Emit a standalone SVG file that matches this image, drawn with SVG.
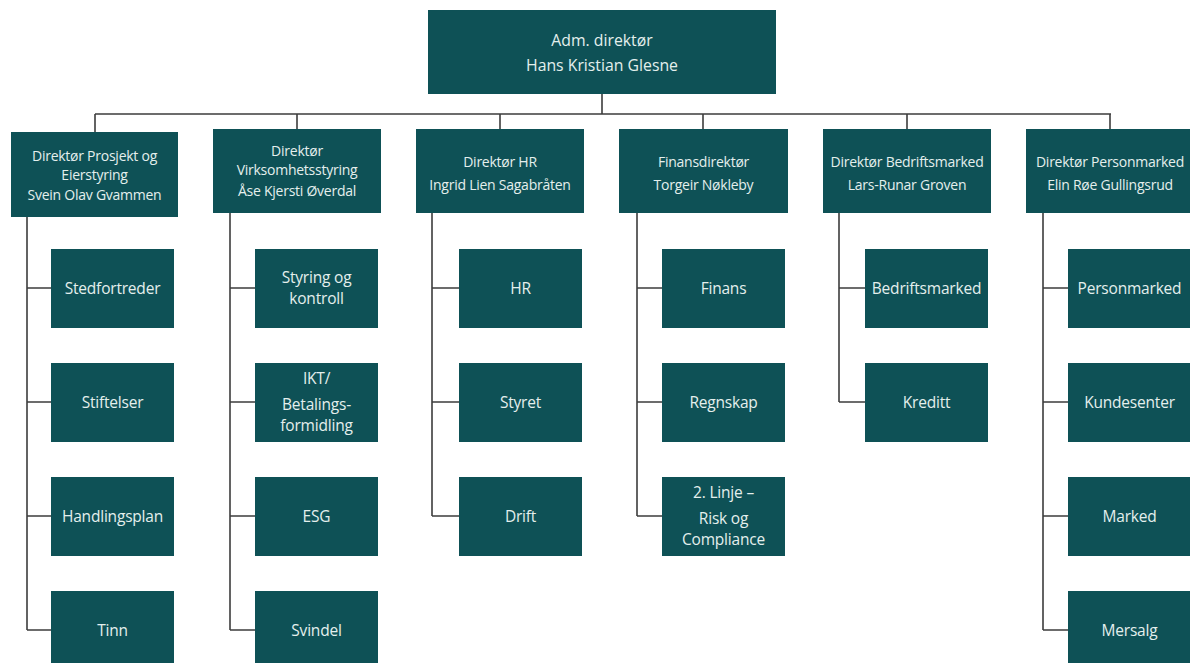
<svg xmlns="http://www.w3.org/2000/svg" width="1190" height="663" viewBox="0 0 1190 663">
<style>
.box{fill:#0e5156;}
.t{font-family:"Open Sans","Noto Sans",sans-serif;fill:#e4efed;text-anchor:middle;}
.top{font-size:15.8px;}
.dir{font-size:14px;letter-spacing:-0.25px;}
.ch{font-size:15.5px;letter-spacing:-0.2px;}
.ln{stroke:#3d3d3d;stroke-width:1.6;fill:none;}
</style>
<rect width="1190" height="663" fill="#ffffff"/>
<g id="connectors">
<path class="ln" d="M602 94V114M95 114H1111M95 114V132M297 114V129M500 114V129M703 114V129M907 114V129M1110 114V129"/>
<path class="ln" d="M27 217V630M27 288H51M27 402H51M27 516H51M27 630H51"/>
<path class="ln" d="M230 213V630M230 288H255M230 402H255M230 516H255M230 630H255"/>
<path class="ln" d="M432 213V516M432 288H459M432 402H459M432 516H459"/>
<path class="ln" d="M637 213V516M637 288H662M637 402H662M637 516H662"/>
<path class="ln" d="M839 213V402M839 288H865M839 402H865"/>
<path class="ln" d="M1043 213V630M1043 288H1068M1043 402H1068M1043 516H1068M1043 630H1068"/>
</g>
<g id="ceo"><rect class="box" x="428" y="10" width="348" height="84"/>
<text class="t top" x="602" y="46">Adm. direktør</text><text class="t top" x="602" y="71">Hans Kristian Glesne</text></g>

<g id="dir1"><rect class="box" x="11" y="132" width="167" height="85"/>
<text class="t dir" x="94.5" y="161">Direktør Prosjekt og</text><text class="t dir" x="94.5" y="180">Eierstyring</text><text class="t dir" x="94.5" y="200">Svein Olav Gvammen</text></g>
<g id="dir2"><rect class="box" x="213" y="129" width="168" height="84"/>
<text class="t dir" x="297" y="156">Direktør</text><text class="t dir" x="297" y="175">Virksomhetsstyring</text><text class="t dir" x="297" y="196">Åse Kjersti Øverdal</text></g>
<g id="dir3"><rect class="box" x="416" y="129" width="168" height="84"/>
<text class="t dir" x="500" y="167">Direktør HR</text><text class="t dir" x="500" y="190">Ingrid Lien Sagabråten</text></g>
<g id="dir4"><rect class="box" x="619" y="129" width="169" height="84"/>
<text class="t dir" x="703.5" y="167">Finansdirektør</text><text class="t dir" x="703.5" y="190">Torgeir Nøkleby</text></g>
<g id="dir5"><rect class="box" x="823" y="129" width="168" height="84"/>
<text class="t dir" x="907" y="167">Direktør Bedriftsmarked</text><text class="t dir" x="907" y="190">Lars-Runar Groven</text></g>
<g id="dir6"><rect class="box" x="1026" y="129" width="168" height="84"/>
<text class="t dir" x="1110" y="167">Direktør Personmarked</text><text class="t dir" x="1110" y="190">Elin Røe Gullingsrud</text></g>

<g id="c1a"><rect class="box" x="51" y="249" width="123" height="79"/><text class="t ch" x="112.5" y="294">Stedfortreder</text></g>
<g id="c1b"><rect class="box" x="51" y="363" width="123" height="79"/><text class="t ch" x="112.5" y="408">Stiftelser</text></g>
<g id="c1c"><rect class="box" x="51" y="477" width="123" height="79"/><text class="t ch" x="112.5" y="522">Handlingsplan</text></g>
<g id="c1d"><rect class="box" x="51" y="591" width="123" height="79"/><text class="t ch" x="112.5" y="636">Tinn</text></g>

<g id="c2a"><rect class="box" x="255" y="249" width="123" height="79"/><text class="t ch" x="316.5" y="283">Styring og</text><text class="t ch" x="316.5" y="304">kontroll</text></g>
<g id="c2b"><rect class="box" x="255" y="363" width="123" height="79"/><text class="t ch" x="316.5" y="384">IKT/</text><text class="t ch" x="316.5" y="410">Betalings-</text><text class="t ch" x="316.5" y="431">formidling</text></g>
<g id="c2c"><rect class="box" x="255" y="477" width="123" height="79"/><text class="t ch" x="316.5" y="522">ESG</text></g>
<g id="c2d"><rect class="box" x="255" y="591" width="123" height="79"/><text class="t ch" x="316.5" y="636">Svindel</text></g>

<g id="c3a"><rect class="box" x="459" y="249" width="123" height="79"/><text class="t ch" x="520.5" y="294">HR</text></g>
<g id="c3b"><rect class="box" x="459" y="363" width="123" height="79"/><text class="t ch" x="520.5" y="408">Styret</text></g>
<g id="c3c"><rect class="box" x="459" y="477" width="123" height="79"/><text class="t ch" x="520.5" y="522">Drift</text></g>

<g id="c4a"><rect class="box" x="662" y="249" width="123" height="79"/><text class="t ch" x="723.5" y="294">Finans</text></g>
<g id="c4b"><rect class="box" x="662" y="363" width="123" height="79"/><text class="t ch" x="723.5" y="408">Regnskap</text></g>
<g id="c4c"><rect class="box" x="662" y="477" width="123" height="79"/><text class="t ch" x="723.5" y="498">2. Linje –</text><text class="t ch" x="723.5" y="524">Risk og</text><text class="t ch" x="723.5" y="545">Compliance</text></g>

<g id="c5a"><rect class="box" x="865" y="249" width="123" height="79"/><text class="t ch" x="926.5" y="294">Bedriftsmarked</text></g>
<g id="c5b"><rect class="box" x="865" y="363" width="123" height="79"/><text class="t ch" x="926.5" y="408">Kreditt</text></g>

<g id="c6a"><rect class="box" x="1068" y="249" width="123" height="79"/><text class="t ch" x="1129.5" y="294">Personmarked</text></g>
<g id="c6b"><rect class="box" x="1068" y="363" width="123" height="79"/><text class="t ch" x="1129.5" y="408">Kundesenter</text></g>
<g id="c6c"><rect class="box" x="1068" y="477" width="123" height="79"/><text class="t ch" x="1129.5" y="522">Marked</text></g>
<g id="c6d"><rect class="box" x="1068" y="591" width="123" height="79"/><text class="t ch" x="1129.5" y="636">Mersalg</text></g>
</svg>
